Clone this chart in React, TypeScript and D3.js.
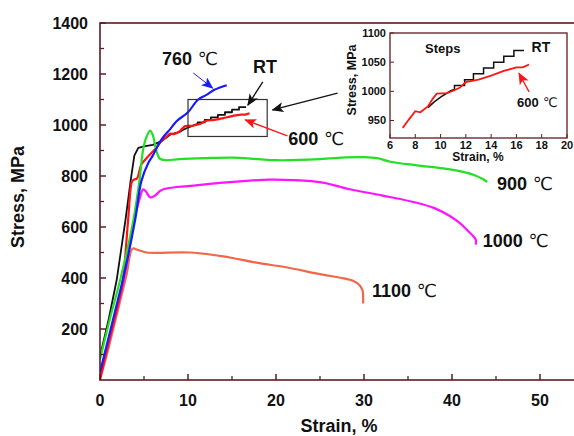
import React, { useRef, useEffect } from 'react';
import * as d3 from 'd3';

type Pt = [number, number];

// axis ticks
const strainTicks = [0, 10, 20, 30, 40, 50];
const strainMinor = [5, 15, 25, 35, 45];
const stressTicks = [200, 400, 600, 800, 1000, 1200, 1400];
const stressMinor = [100, 300, 500, 700, 900, 1100, 1300];
const insetStrainTicks = [6, 8, 10, 12, 14, 16, 18, 20];
const insetStressTicks = [950, 1000, 1050, 1100];

// stress-strain curves [strain %, stress MPa]
const curveRT: Pt[] = [
  [0, 92], [1, 240], [1.9, 393], [2.9, 629], [3.5, 786], [3.9, 880], [4.35, 910], [5, 916],
  [6, 922], [7, 937], [8, 963], [9, 972], [9.5, 982], [10, 990], [10.8, 1001], [11.1, 1003],
  [11.1, 1010], [11.9, 1010], [11.9, 1020], [12.6, 1020], [12.6, 1030], [13.4, 1030],
  [13.4, 1040], [14.2, 1040], [14.2, 1050], [15.0, 1050], [15.0, 1060], [15.8, 1060],
  [15.8, 1070], [16.6, 1070],
];
const curve600: Pt[] = [
  [0, 5], [1, 150], [2, 290], [2.6, 393], [3.2, 629], [3.6, 775], [3.8, 785], [4.2, 790],
  [4.7, 845], [5.5, 878], [6.25, 905], [7, 937], [7.5, 952], [8, 966], [8.4, 964], [9, 974],
  [9.4, 988], [9.7, 996], [10.5, 997], [11, 1001], [11.5, 1006], [12, 1016], [13, 1020],
  [14, 1027], [15, 1035], [16, 1041], [16.5, 1041], [17, 1046],
];
const curve760: Pt[] = [
  [0, 30], [1, 170], [2, 310], [2.6, 393], [4, 629], [4.7, 780], [5.5, 852], [6, 880],
  [7, 944], [8, 985], [8.7, 1015], [10, 1050], [11.1, 1098], [12.1, 1118], [13, 1138],
  [14.4, 1156],
];
const curve900: Pt[] = [
  [0, 80], [1.2, 250], [2.3, 393], [3.8, 629], [4.5, 786], [4.9, 904], [5.3, 955],
  [5.7, 978], [6.0, 960], [6.4, 900], [6.8, 868], [7.5, 862], [9, 866], [12, 870],
  [15, 872], [18, 866], [20, 862], [25, 866], [28, 873], [30, 874], [31.5, 870],
  [33, 856], [36, 842], [39, 830], [41, 818], [42.5, 804], [43.5, 788], [44, 776],
];
const curve1000: Pt[] = [
  [0, 10], [1.3, 190], [2.7, 393], [3.9, 629], [4.5, 710], [4.9, 748], [5.2, 740],
  [5.7, 716], [6.2, 722], [7, 745], [8.3, 755], [10, 760], [14, 774], [17, 782],
  [19.3, 786], [22, 784], [25.3, 774], [28.4, 748], [32, 724], [36, 695],
  [38, 674], [39.8, 642], [41, 612], [41.8, 585], [42.4, 565], [42.7, 550], [42.7, 531],
];
const curve1100: Pt[] = [
  [0, 0], [1, 130], [2, 270], [3, 410], [3.7, 515], [4.3, 510], [5.3, 500], [10.2, 500],
  [14, 485], [17.8, 460], [21, 443], [25.3, 413], [27.5, 400], [28.8, 388], [29.5, 372],
  [29.85, 350], [29.9, 330], [29.9, 300],
];

const series = [
  { key: '1100', color: '#f2674a', data: curve1100 },
  { key: '1000', color: '#ff14ff', data: curve1000 },
  { key: 'RT', color: '#111111', data: curveRT },
  { key: '600', color: '#ff1414', data: curve600 },
  { key: '900', color: '#22e022', data: curve900 },
  { key: '760', color: '#1a1aff', data: curve760 },
];

// curve labels in data units (main plot)
const mainLabels = [
  { text: '760', deg: true, at: [7.05, 1235] },
  { text: 'RT', deg: false, at: [17.4, 1204] },
  { text: '600', deg: true, at: [21.4, 922] },
  { text: '900', deg: true, at: [45.1, 745] },
  { text: '1000', deg: true, at: [43.5, 522] },
  { text: '1100', deg: true, at: [30.9, 325] },
];
// arrows, data units [from, to]
const mainArrows = [
  { color: '#1a1aff', from: [10.6, 1204], to: [12.8, 1145] },
  { color: '#111111', from: [18.5, 1169], to: [16.8, 1078] },
  { color: '#111111', from: [27.0, 1125], to: [19.6, 1059] },
  { color: '#ff1414', from: [21.3, 957], to: [16.5, 1020] },
];
const zoomBox = { x0: 10, x1: 19, y0: 955, y1: 1100 };

const FONT = '"Liberation Sans", Arial, sans-serif';
const AXIS = '#5c1c24';

const App = () => {
  const svgRef = useRef<SVGSVGElement>(null);

  useEffect(() => {
    document.body.style.margin = '0';
    const svg = d3.select(svgRef.current);
    svg.selectAll('*').remove();

    const x = d3.scaleLinear().domain([0, 55]).range([100, 584]);
    const y = d3.scaleLinear().domain([0, 1400]).range([380, 23]);

    const defs = svg.append('defs');
    defs.append('clipPath').attr('id', 'mainClip')
      .append('rect').attr('x', 100).attr('y', 23).attr('width', 484).attr('height', 357);

    const colors = ['#1a1aff', '#111111', '#ff1414'];
    colors.forEach((c, i) => {
      defs.append('marker')
        .attr('id', `arr${i}`)
        .attr('markerUnits', 'userSpaceOnUse')
        .attr('viewBox', '0 0 12 10')
        .attr('refX', 11).attr('refY', 5)
        .attr('markerWidth', 12).attr('markerHeight', 10)
        .attr('orient', 'auto')
        .append('path').attr('d', 'M0,0 L12,5 L0,10 L3,5 Z').attr('fill', c);
    });

    // curves (RT kept straight so the steps stay sharp)
    const line = d3.line<Pt>().x(d => x(d[0])).y(d => y(d[1]));
    const smooth = d3.line<Pt>().x(d => x(d[0])).y(d => y(d[1])).curve(d3.curveCatmullRom.alpha(0.5));
    const g = svg.append('g').attr('clip-path', 'url(#mainClip)');
    series.forEach(s => {
      g.append('path')
        .attr('d', s.key === 'RT' ? line(s.data) : smooth(s.data))
        .attr('fill', 'none')
        .attr('stroke', s.color)
        .attr('stroke-width', s.key === 'RT' ? 1.8 : 2.2)
        .attr('stroke-linejoin', 'round');
    });

    // frame
    svg.append('rect')
      .attr('x', x(0)).attr('y', y(1400))
      .attr('width', x(55) - x(0)).attr('height', y(0) - y(1400))
      .attr('fill', 'none').attr('stroke', AXIS).attr('stroke-width', 1.6);

    // y ticks
    stressTicks.forEach(v => {
      svg.append('line').attr('x1', x(0)).attr('x2', x(0) + 6)
        .attr('y1', y(v)).attr('y2', y(v)).attr('stroke', AXIS).attr('stroke-width', 1.5);
      svg.append('text').attr('x', 88).attr('y', y(v)).attr('dy', '0.35em')
        .attr('text-anchor', 'end').attr('font-family', FONT).attr('font-weight', 'bold')
        .attr('font-size', 16).attr('fill', '#111').text(v);
    });
    stressMinor.forEach(v => {
      svg.append('line').attr('x1', x(0)).attr('x2', x(0) + 4)
        .attr('y1', y(v)).attr('y2', y(v)).attr('stroke', AXIS).attr('stroke-width', 1.3);
    });
    // x ticks
    strainTicks.forEach(v => {
      svg.append('line').attr('x1', x(v)).attr('x2', x(v))
        .attr('y1', y(0)).attr('y2', y(0) - 6).attr('stroke', AXIS).attr('stroke-width', 1.5);
      svg.append('text').attr('x', x(v)).attr('y', 406)
        .attr('text-anchor', 'middle').attr('font-family', FONT).attr('font-weight', 'bold')
        .attr('font-size', 16).attr('fill', '#111').text(v);
    });
    strainMinor.forEach(v => {
      svg.append('line').attr('x1', x(v)).attr('x2', x(v))
        .attr('y1', y(0)).attr('y2', y(0) - 4).attr('stroke', AXIS).attr('stroke-width', 1.3);
    });

    svg.append('text').attr('x', 339).attr('y', 432).attr('text-anchor', 'middle')
      .attr('font-family', FONT).attr('font-weight', 'bold').attr('font-size', 18)
      .attr('fill', '#111').text('Strain, %');
    svg.append('text').attr('transform', 'translate(24,197) rotate(-90)')
      .attr('text-anchor', 'middle')
      .attr('font-family', FONT).attr('font-weight', 'bold').attr('font-size', 18)
      .attr('fill', '#111').text('Stress, MPa');

    // zoom box
    svg.append('rect')
      .attr('x', x(zoomBox.x0)).attr('y', y(zoomBox.y1))
      .attr('width', x(zoomBox.x1) - x(zoomBox.x0)).attr('height', y(zoomBox.y0) - y(zoomBox.y1))
      .attr('fill', 'none').attr('stroke', '#333').attr('stroke-width', 1.2);

    // arrows
    mainArrows.forEach(a => {
      svg.append('line')
        .attr('x1', x(a.from[0])).attr('y1', y(a.from[1]))
        .attr('x2', x(a.to[0])).attr('y2', y(a.to[1]))
        .attr('stroke', a.color).attr('stroke-width', a.color === '#1a1aff' ? 1 : 1.3)
        .attr('marker-end', `url(#arr${colors.indexOf(a.color)})`);
    });

    // labels
    mainLabels.forEach(l => {
      const t = svg.append('text').attr('x', x(l.at[0])).attr('y', y(l.at[1]))
        .attr('font-family', FONT).attr('font-weight', 'bold').attr('font-size', 18)
        .attr('fill', '#111').text(l.text);
      if (l.deg) {
        t.append('tspan').attr('font-weight', 'normal').attr('font-family', '"DejaVu Sans", sans-serif')
          .attr('font-size', 18).text(' ℃');
      }
    });

    // ---- inset ----
    const ix = d3.scaleLinear().domain([6, 20]).range([390, 567]);
    const iy = d3.scaleLinear().domain([920, 1100]).range([138, 33]);
    defs.append('clipPath').attr('id', 'insetClip')
      .append('rect').attr('x', 390).attr('y', 33).attr('width', 177).attr('height', 105);

    svg.append('rect').attr('x', 390).attr('y', 33).attr('width', 177).attr('height', 105)
      .attr('fill', '#fff');

    const iline = d3.line<Pt>().x(d => ix(d[0])).y(d => iy(d[1]));
    const ig = svg.append('g').attr('clip-path', 'url(#insetClip)');
    ig.append('path').attr('d', iline(curveRT.filter(d => d[0] >= 8.9)))
      .attr('fill', 'none').attr('stroke', '#111').attr('stroke-width', 1.5);
    ig.append('path').attr('d', iline(curve600.filter(d => d[0] >= 7)))
      .attr('fill', 'none').attr('stroke', '#ff1414').attr('stroke-width', 1.8);

    svg.append('rect').attr('x', 390).attr('y', 33).attr('width', 177).attr('height', 105)
      .attr('fill', 'none').attr('stroke', AXIS).attr('stroke-width', 1.3);

    insetStrainTicks.forEach(v => {
      svg.append('line').attr('x1', ix(v)).attr('x2', ix(v)).attr('y1', 138).attr('y2', 134)
        .attr('stroke', AXIS);
      svg.append('text').attr('x', ix(v)).attr('y', 149).attr('text-anchor', 'middle')
        .attr('font-family', FONT).attr('font-weight', 'bold').attr('font-size', 11)
        .attr('fill', '#111').text(v);
    });
    insetStressTicks.forEach(v => {
      svg.append('line').attr('x1', 390).attr('x2', 394).attr('y1', iy(v)).attr('y2', iy(v))
        .attr('stroke', AXIS);
      svg.append('text').attr('x', 386).attr('y', iy(v)).attr('dy', '0.35em')
        .attr('text-anchor', 'end')
        .attr('font-family', FONT).attr('font-weight', 'bold').attr('font-size', 11)
        .attr('fill', '#111').text(v);
    });
    svg.append('text').attr('x', 478).attr('y', 161).attr('text-anchor', 'middle')
      .attr('font-family', FONT).attr('font-weight', 'bold').attr('font-size', 12)
      .attr('fill', '#111').text('Strain, %');
    svg.append('text').attr('transform', 'translate(356,80) rotate(-90)')
      .attr('text-anchor', 'middle')
      .attr('font-family', FONT).attr('font-weight', 'bold').attr('font-size', 12.5)
      .attr('fill', '#111').text('Stress, MPa');

    svg.append('text').attr('x', ix(8.77)).attr('y', iy(1066))
      .attr('font-family', FONT).attr('font-weight', 'bold').attr('font-size', 13)
      .attr('fill', '#111').text('Steps');
    svg.append('text').attr('x', ix(17.2)).attr('y', iy(1067))
      .attr('font-family', FONT).attr('font-weight', 'bold').attr('font-size', 14)
      .attr('fill', '#111').text('RT');
    const t600 = svg.append('text').attr('x', ix(16.05)).attr('y', iy(973))
      .attr('font-family', FONT).attr('font-weight', 'bold').attr('font-size', 13)
      .attr('fill', '#111').text('600');
    t600.append('tspan').attr('font-weight', 'normal')
      .attr('font-family', '"DejaVu Sans", sans-serif').text(' ℃');
    svg.append('line')
      .attr('x1', ix(17.0)).attr('y1', iy(999)).attr('x2', ix(16.2)).attr('y2', iy(1031))
      .attr('stroke', '#ff1414').attr('stroke-width', 1.3).attr('marker-end', 'url(#arr2)');
  }, []);

  return <svg ref={svgRef} width={574} height={436} style={{ display: 'block', background: '#fff' }} />;
};

export default App;
